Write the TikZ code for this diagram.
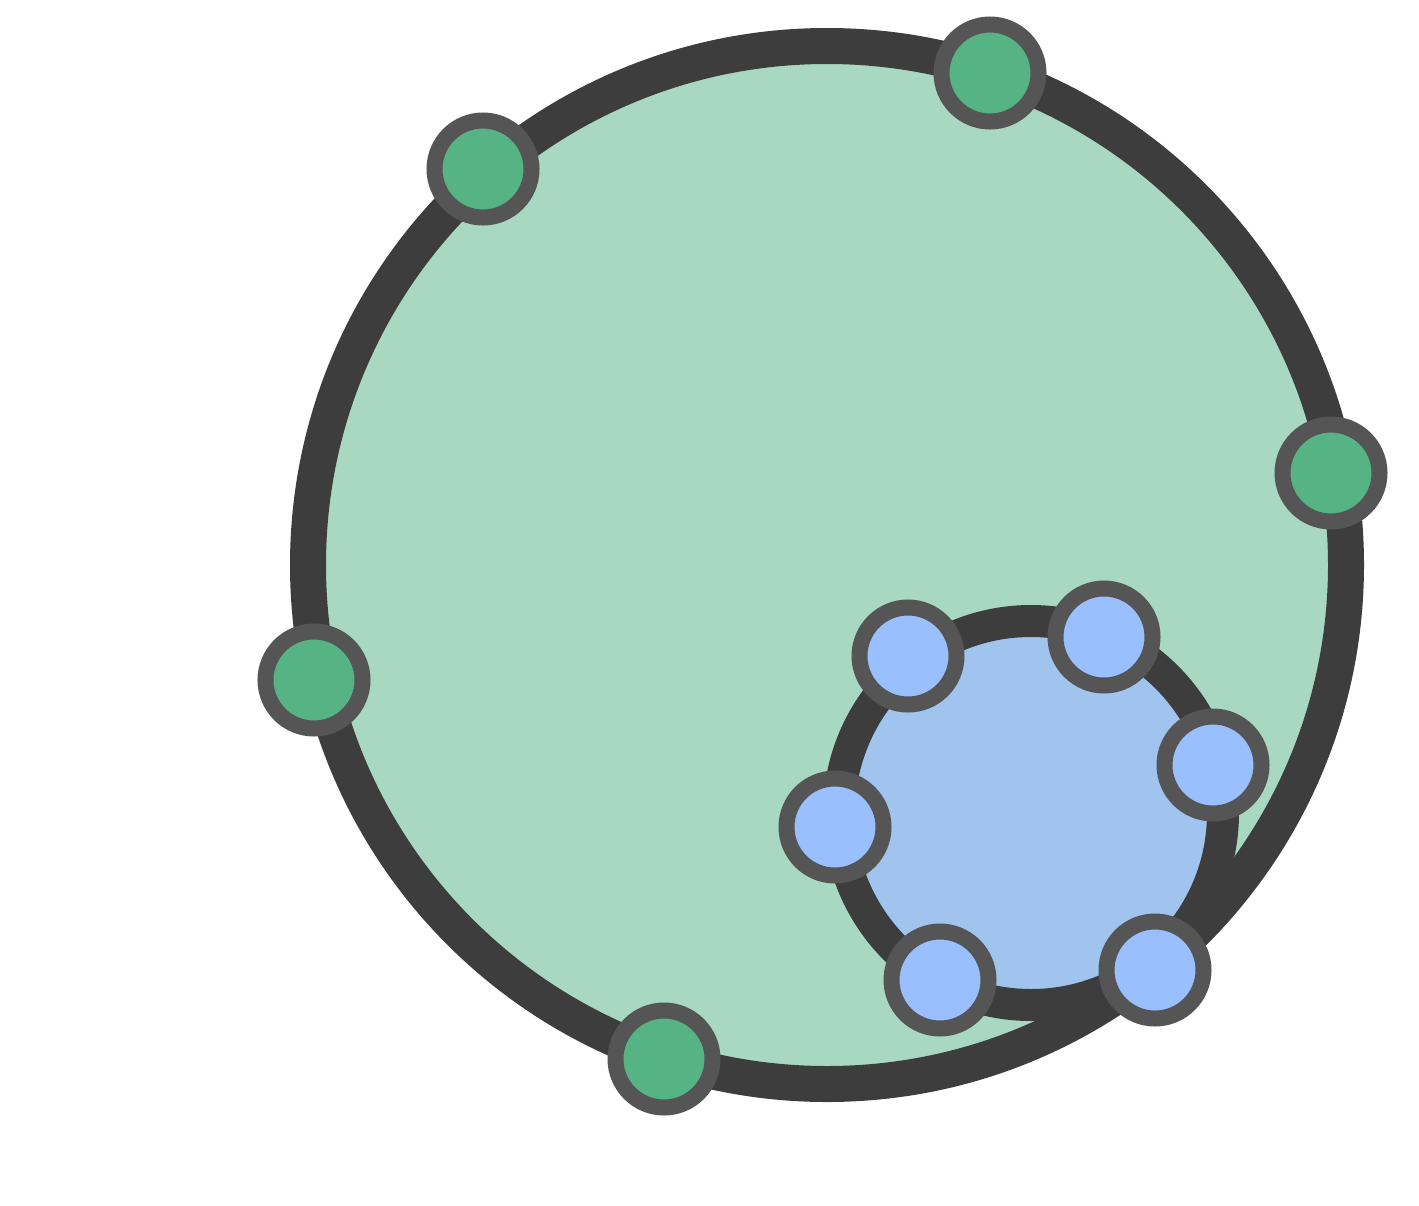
\documentclass[tikz,border=0pt]{standalone}
\definecolor{ringdark}{HTML}{3D3D3D}
\definecolor{dotedge}{HTML}{555555}
\definecolor{bigfill}{HTML}{A8D8C2}
\definecolor{smallfill}{HTML}{A0C4EE}
\definecolor{greendot}{HTML}{55B384}
\definecolor{bluedot}{HTML}{9ABFFF}
\begin{document}
\begin{tikzpicture}[x=1pt,y=-1pt,
  gdot/.style={circle,draw=dotedge,line width=16pt,fill=greendot,minimum size=97pt,inner sep=0pt},
  bdot/.style={circle,draw=dotedge,line width=16pt,fill=bluedot,minimum size=97pt,inner sep=0pt}]
\useasboundingbox (0,0) rectangle (1419,1205);
\fill[white] (0,0) rectangle (1419,1205);
\node[circle,draw=ringdark,line width=36pt,fill=bigfill,minimum size=1038pt,inner sep=0pt] (big) at (827,565) {};
\node[circle,draw=ringdark,line width=32pt,fill=smallfill,minimum size=384pt,inner sep=0pt] (small) at (1031,813) {};
\node[gdot] (g1) at (483,169) {};
\node[gdot] (g2) at (990,73) {};
\node[gdot] (g3) at (1331,473) {};
\node[gdot] (g4) at (314,680) {};
\node[gdot] (g5) at (664,1059) {};
\node[bdot] (b1) at (908,656) {};
\node[bdot] (b2) at (1104,637) {};
\node[bdot] (b3) at (1213,765) {};
\node[bdot] (b4) at (835,827) {};
\node[bdot] (b5) at (940,980) {};
\node[bdot] (b6) at (1155,970) {};
\end{tikzpicture}
\end{document}
